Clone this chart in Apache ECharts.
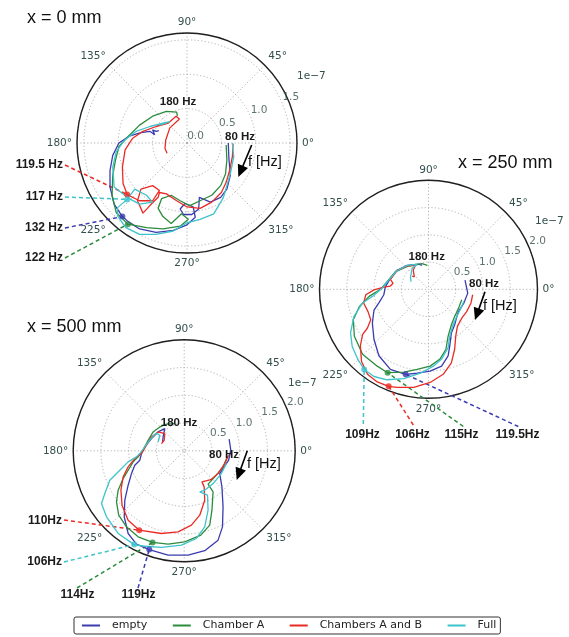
<!DOCTYPE html>
<html>
<head>
<meta charset="utf-8">
<script src="https://cdn.jsdelivr.net/npm/echarts@6/dist/echarts.min.js"></script>
<style>html,body{margin:0;padding:0;background:#fff}#c{width:569px;height:637px}</style>
</head>
<body>
<div id="c"></div>
<script>
// ---------- data (real / imaginary parts, units of 1e-7) ----------
const seriesNames = ['empty', 'Chamber A', 'Chambers A and B', 'Full'];
const angleTicks = [0, 45, 90, 135, 180, 225, 270, 315];

// x = 0 mm
const p1_empty = [[0.60,0.00],[0.61,-0.23],[0.63,-0.47],[0.58,-0.67],[0.49,-0.79],[0.34,-0.86],[0.18,-0.79],[0.17,-0.96],[0.07,-1.04],[-0.05,-1.04],[-0.10,-0.96],[-0.03,-0.88],[0.09,-0.93],[0.12,-1.08],[0.00,-1.19],[-0.20,-1.27],[-0.45,-1.30],[-0.69,-1.25],[-0.86,-1.14],[-0.94,-1.07],[-1.06,-0.89],[-1.12,-0.64],[-1.12,-0.40],[-1.08,-0.18],[-0.99,0.00],[-0.84,0.10],[-0.67,0.15],[-0.54,0.17],[-0.47,0.12],[-0.50,0.19],[-0.45,0.17],[-0.41,0.18]];
const p1_chamberA = [[0.57,-0.03],[0.58,-0.25],[0.56,-0.45],[0.49,-0.62],[0.36,-0.76],[0.19,-0.84],[0.04,-0.91],[-0.10,-0.84],[-0.23,-0.76],[-0.37,-0.81],[-0.42,-0.95],[-0.35,-1.07],[-0.23,-1.17],[-0.08,-1.03],[0.02,-1.11],[-0.10,-1.21],[-0.35,-1.25],[-0.59,-1.23],[-0.86,-1.18],[-1.03,-1.01],[-1.09,-0.76],[-1.08,-0.47],[-1.04,-0.25],[-0.99,-0.05],[-0.86,0.09],[-0.69,0.26],[-0.50,0.39],[-0.30,0.46],[-0.15,0.45],[-0.14,0.39]];
const p1_chambersAB = [[0.67,-0.01],[0.66,-0.20],[0.62,-0.40],[0.57,-0.57],[0.50,-0.72],[0.36,-0.86],[0.19,-0.95],[0.00,-0.93],[-0.15,-0.84],[-0.30,-0.74],[-0.40,-0.72],[-0.42,-0.79],[-0.54,-0.91],[-0.64,-1.02],[-0.72,-0.84],[-0.67,-0.67],[-0.50,-0.62],[-0.40,-0.69],[-0.50,-0.84],[-0.69,-0.84],[-0.87,-0.75],[-0.93,-0.59],[-0.94,-0.35],[-0.90,-0.10],[-0.79,0.07],[-0.64,0.17],[-0.45,0.24],[-0.27,0.29],[-0.16,0.39],[-0.11,0.35],[-0.25,0.22],[-0.31,0.04],[-0.32,-0.08],[-0.29,-0.15]];
const p1_full = [[0.66,0.00],[0.68,-0.20],[0.63,-0.45],[0.53,-0.79],[0.39,-1.03],[0.19,-1.11],[0.00,-1.16],[-0.20,-1.28],[-0.45,-1.33],[-0.69,-1.33],[-0.89,-1.23],[-1.01,-1.06],[-1.01,-0.94],[-0.87,-0.82],[-0.76,-0.67],[-0.59,-0.76],[-0.50,-0.86],[-0.69,-0.89],[-0.84,-0.81],[-1.06,-0.64],[-1.08,-0.35],[-1.03,-0.13],[-0.91,0.04],[-0.74,0.17],[-0.54,0.24],[-0.35,0.29],[-0.25,0.31],[-0.40,0.26]];
const p1_radialTicks = [0, 0.5, 1.0, 1.5];
const p1_radialLabels = ['0.0', '0.5', '1.0', '1.5'];
const p1_dotLabels = ['119.5 Hz', '117 Hz', '132 Hz', '122 Hz'];
const p1_dotSeries = [2, 3, 0, 1];
const p1_dotValues = [[-0.87,-0.75],[-0.87,-0.82],[-0.94,-1.07],[-0.86,-1.18]];

// x = 250 mm
const p2_empty = [[0.67,0.17],[0.72,-0.07],[0.65,-0.25],[0.55,-0.41],[0.52,-0.50],[0.48,-0.65],[0.42,-0.80],[0.39,-1.04],[0.36,-1.22],[0.24,-1.41],[0.03,-1.50],[-0.21,-1.54],[-0.42,-1.56],[-0.70,-1.47],[-0.91,-1.22],[-1.00,-0.92],[-1.03,-0.62],[-1.00,-0.38],[-0.91,-0.25],[-0.82,-0.10],[-0.79,0.05],[-0.70,0.20],[-0.58,0.35],[-0.39,0.44],[-0.18,0.46],[-0.12,0.44]];
const p2_chamberA = [[0.61,-0.19],[0.55,-0.35],[0.48,-0.50],[0.42,-0.65],[0.36,-0.86],[0.32,-1.10],[0.21,-1.28],[0.03,-1.41],[-0.21,-1.47],[-0.45,-1.52],[-0.75,-1.53],[-0.94,-1.41],[-1.21,-1.19],[-1.36,-0.86],[-1.38,-0.56],[-1.27,-0.32],[-1.09,-0.13],[-0.88,0.00],[-0.76,0.14],[-0.61,0.32],[-0.39,0.42],[-0.12,0.47],[-0.02,0.44]];
const p2_chambersAB = [[0.81,-0.10],[0.78,-0.25],[0.70,-0.41],[0.61,-0.53],[0.53,-0.68],[0.50,-0.86],[0.48,-1.10],[0.42,-1.35],[0.27,-1.56],[0.03,-1.71],[-0.27,-1.80],[-0.58,-1.80],[-0.73,-1.78],[-0.94,-1.70],[-1.12,-1.56],[-1.23,-1.32],[-1.25,-1.04],[-1.21,-0.83],[-1.12,-0.71],[-1.06,-0.56],[-1.11,-0.41],[-1.19,-0.25],[-1.15,-0.10],[-1.00,-0.01],[-0.82,0.04],[-0.70,0.06],[-0.65,0.11],[-0.70,0.18],[-0.58,0.34],[-0.39,0.43],[-0.24,0.44],[-0.28,0.35],[-0.26,0.23],[-0.30,0.24]];
const p2_full = [[0.65,-0.22],[0.58,-0.38],[0.52,-0.50],[0.45,-0.65],[0.39,-0.86],[0.36,-1.07],[0.24,-1.28],[0.09,-1.41],[-0.15,-1.54],[-0.45,-1.64],[-0.76,-1.66],[-1.00,-1.60],[-1.18,-1.47],[-1.30,-1.28],[-1.40,-1.05],[-1.43,-0.80],[-1.37,-0.50],[-1.21,-0.25],[-1.03,-0.13],[-0.85,0.02],[-0.73,0.17],[-0.58,0.34],[-0.39,0.44],[-0.21,0.46],[-0.30,0.38],[-0.33,0.23],[-0.32,0.14]];
const p2_radialTicks = [0.5, 1.0, 1.5, 2.0];
const p2_radialLabels = ['0.5', '1.0', '1.5', '2.0'];
const p2_dotLabels = ['109Hz', '106Hz', '115Hz', '119.5Hz'];
const p2_dotSeries = [3, 2, 1, 0];
const p2_dotValues = [[-1.18,-1.47],[-0.73,-1.78],[-0.75,-1.53],[-0.42,-1.56]];

// x = 500 mm
const p3_empty = [[0.81,0.21],[0.84,0.01],[0.80,-0.17],[0.70,-0.32],[0.64,-0.41],[0.68,-0.65],[0.70,-1.01],[0.69,-1.37],[0.61,-1.61],[0.37,-1.80],[0.07,-1.88],[-0.29,-1.88],[-0.63,-1.78],[-0.86,-1.68],[-1.01,-1.49],[-1.08,-1.19],[-1.07,-0.89],[-1.01,-0.62],[-0.95,-0.41],[-0.89,-0.26],[-0.80,-0.17],[-0.77,-0.05],[-0.71,0.07],[-0.59,0.22],[-0.47,0.34],[-0.35,0.40],[-0.32,0.38],[-0.38,0.25],[-0.39,0.16]];
const p3_chamberA = [[0.78,-0.10],[0.70,-0.29],[0.56,-0.46],[0.43,-0.60],[0.52,-0.74],[0.50,-1.07],[0.46,-1.34],[0.30,-1.52],[0.01,-1.64],[-0.29,-1.68],[-0.57,-1.65],[-0.83,-1.55],[-1.04,-1.37],[-1.18,-1.16],[-1.22,-0.92],[-1.19,-0.71],[-1.10,-0.50],[-1.01,-0.35],[-0.92,-0.20],[-0.83,-0.11],[-0.74,0.01],[-0.65,0.19],[-0.56,0.34],[-0.44,0.43],[-0.32,0.48],[-0.17,0.49]];
const p3_chambersAB = [[0.80,-0.08],[0.73,-0.23],[0.61,-0.41],[0.48,-0.52],[0.32,-0.56],[0.36,-0.65],[0.37,-0.89],[0.28,-1.16],[0.13,-1.34],[-0.11,-1.46],[-0.41,-1.49],[-0.81,-1.43],[-1.01,-1.25],[-1.12,-0.98],[-1.14,-0.71],[-1.10,-0.47],[-1.01,-0.29],[-0.89,-0.14],[-0.77,-0.05],[-0.68,0.10],[-0.59,0.25],[-0.47,0.34],[-0.35,0.31],[-0.36,0.19],[-0.41,0.13]];
const p3_full = [[0.76,-0.23],[0.67,-0.41],[0.52,-0.59],[0.37,-0.71],[0.28,-0.74],[0.42,-0.80],[0.43,-1.07],[0.37,-1.37],[0.22,-1.58],[-0.05,-1.70],[-0.41,-1.74],[-0.71,-1.72],[-0.90,-1.69],[-1.19,-1.49],[-1.40,-1.19],[-1.49,-0.95],[-1.43,-0.77],[-1.34,-0.53],[-1.16,-0.35],[-1.01,-0.20],[-0.86,-0.11],[-0.80,-0.05],[-0.71,0.07],[-0.60,0.22],[-0.50,0.32],[-0.44,0.28],[-0.47,0.16]];
const p3_radialTicks = [0.5, 1.0, 1.5, 2.0];
const p3_radialLabels = ['0.5', '1.0', '1.5', '2.0'];
const p3_dotLabels = ['110Hz', '106Hz', '114Hz', '119Hz'];
const p3_dotSeries = [2, 3, 1, 0];
const p3_dotValues = [[-0.81,-1.43],[-0.90,-1.69],[-0.57,-1.65],[-0.63,-1.78]];

// ---------- layout / style ----------
const COLORS = ['#3b3bb0', '#2b8c3e', '#ea2b25', '#3dc3cb'];
const TICK_COLOR = '#34504d';
const PLOTS = [
  { title: 'x = 0 mm', titlePos: [27, 18], center: [187, 143], radius: 110, max: 1.6,
    curves: [p1_empty, p1_chamberA, p1_chambersAB, p1_full],
    rTicks: p1_radialTicks, rLabels: p1_radialLabels,
    dotLabels: p1_dotLabels, dotSeries: p1_dotSeries, dotValues: p1_dotValues,
    callouts: [
      { tx: 63, ty: 165, align: 'right', lx: 65, ly: 165 },
      { tx: 63, ty: 197, align: 'right', lx: 65, ly: 197 },
      { tx: 63, ty: 228, align: 'right', lx: 65, ly: 228 },
      { tx: 63, ty: 258, align: 'right', lx: 65, ly: 258 }
    ],
    f180: [178, 102], f80: [240, 137], fLabel: [248, 162], arrow: [251.7, 145, 238.3, 177], sci: [297, 76] },
  { title: 'x = 250 mm', titlePos: [458, 163], center: [428.5, 289.3], radius: 109, max: 2.0,
    curves: [p2_empty, p2_chamberA, p2_chambersAB, p2_full],
    rTicks: p2_radialTicks, rLabels: p2_radialLabels,
    dotLabels: p2_dotLabels, dotSeries: p2_dotSeries, dotValues: p2_dotValues,
    callouts: [
      { tx: 362.5, ty: 435, align: 'center', lx: 363.3, ly: 424 },
      { tx: 412.5, ty: 435, align: 'center', lx: 413.3, ly: 425 },
      { tx: 461.5, ty: 435, align: 'center', lx: 463.3, ly: 426.5 },
      { tx: 517.5, ty: 435, align: 'center', lx: 518.3, ly: 426.5 }
    ],
    f180: [426.7, 256.7], f80: [484, 284], fLabel: [483, 305.7], arrow: [485, 291.7, 475, 320], sci: [535, 221] },
  { title: 'x = 500 mm', titlePos: [27, 327], center: [184.2, 450.8], radius: 111, max: 2.0,
    curves: [p3_empty, p3_chamberA, p3_chambersAB, p3_full],
    rTicks: p3_radialTicks, rLabels: p3_radialLabels,
    dotLabels: p3_dotLabels, dotSeries: p3_dotSeries, dotValues: p3_dotValues,
    callouts: [
      { tx: 62, ty: 521, align: 'right', lx: 64, ly: 520 },
      { tx: 62, ty: 562, align: 'right', lx: 64, ly: 562 },
      { tx: 77.5, ty: 595, align: 'center', lx: 77, ly: 588 },
      { tx: 138.5, ty: 595, align: 'center', lx: 138, ly: 588 }
    ],
    f180: [179, 422.7], f80: [224, 455], fLabel: [247, 464.3], arrow: [247.3, 450.7, 236.7, 480], sci: [288, 383] }
];

function toPolar(pt) {
  const r = Math.hypot(pt[0], pt[1]);
  let t = Math.atan2(pt[1], pt[0]) * 180 / Math.PI;
  if (t < 0) t += 360;
  return [r, t];
}

const gridLine = { color: '#a8a8a8', type: [1.2, 2.2], width: 0.9 };
const polar = [], angleAxis = [], radiusAxis = [], series = [];
const dotSeriesIndex = [];

PLOTS.forEach((p, i) => {
  polar.push({ center: p.center, radius: [0, p.radius] });
  angleAxis.push({
    polarIndex: i, type: 'value', min: 0, max: 360, interval: 45,
    startAngle: 0, clockwise: false,
    axisLine: { show: true, lineStyle: { color: '#1f1f1f', width: 1.4 } },
    axisTick: { show: false },
    axisLabel: { margin: 5, color: TICK_COLOR, fontSize: 10.5, fontFamily: 'DejaVu Sans',
      formatter: v => (angleTicks.indexOf(v) >= 0 ? v + '°' : '') },
    splitLine: { show: true, lineStyle: gridLine }
  });
  radiusAxis.push({
    polarIndex: i, type: 'value', min: 0, max: p.max, interval: 0.5,
    axisLine: { show: false }, axisTick: { show: false }, axisLabel: { show: false },
    splitLine: { show: true, lineStyle: gridLine }
  });
  p.curves.forEach((c, k) => {
    series.push({
      type: 'line', name: seriesNames[k], coordinateSystem: 'polar', polarIndex: i,
      data: c.map(toPolar), symbol: 'none', showSymbol: false, smooth: false, clip: false,
      lineStyle: { color: COLORS[k], width: 1.3 }, itemStyle: { color: COLORS[k] },
      emphasis: { disabled: true }, animation: false, z: 2 + k * 0.01
    });
  });
  dotSeriesIndex.push(series.length);
  series.push({
    type: 'scatter', name: 'markers' + i, coordinateSystem: 'polar', polarIndex: i,
    symbol: 'circle', symbolSize: 6, animation: false, z: 4,
    data: p.dotValues.map((v, j) => ({ value: toPolar(v), itemStyle: { color: COLORS[p.dotSeries[j]] } }))
  });
  series.push({
    type: 'scatter', name: 'rlabels' + i, coordinateSystem: 'polar', polarIndex: i,
    symbolSize: 1, itemStyle: { color: 'transparent' }, animation: false, silent: true, z: 3,
    data: p.rTicks.map((v, j) => ({ value: [v, 22.5], name: p.rLabels[j] })),
    label: { show: true, position: 'inside', offset: [8.5, -6.5], formatter: d => d.name,
      color: TICK_COLOR, fontSize: 10.5, fontFamily: 'DejaVu Sans' }
  });
});

const chart = echarts.init(document.getElementById('c'), null, { renderer: 'canvas' });
chart.setOption({
  backgroundColor: '#ffffff',
  animation: false,
  polar, angleAxis, radiusAxis, series,
  legend: {
    data: seriesNames, left: 74, top: 617, orient: 'horizontal',
    icon: 'rect', itemWidth: 18, itemHeight: 2, itemGap: 25.5,
    padding: [3, 4, 3, 8], borderColor: '#333', borderWidth: 1, borderRadius: 2,
    textStyle: { fontFamily: 'DejaVu Sans', fontSize: 11, color: '#222', padding: [0, 0, 0, 7] },
    selectedMode: false
  }
});

// ---------- annotations ----------
function arrowEls(a) {
  const [x1, y1, x2, y2] = a;
  const dx = x2 - x1, dy = y2 - y1, L = Math.hypot(dx, dy), ux = dx / L, uy = dy / L;
  const hl = 12, hw = 5.5, bx = x2 - ux * hl, by = y2 - uy * hl;
  return [
    { type: 'line', shape: { x1, y1, x2: bx + ux, y2: by + uy }, style: { stroke: '#000', lineWidth: 1.6 } },
    { type: 'polygon', shape: { points: [[x2, y2], [bx - uy * hw, by + ux * hw], [bx + uy * hw, by - ux * hw]] }, style: { fill: '#000' } }
  ];
}
function text(x, y, str, font, align, color) {
  return { type: 'text', x, y, z: 10, style: { text: str, font, fill: color || '#1a1a1a', align: align || 'left', verticalAlign: 'middle' } };
}
const graphic = [];
PLOTS.forEach((p, i) => {
  graphic.push(text(p.titlePos[0], p.titlePos[1], p.title, '18px "Liberation Sans"', 'left', '#111'));
  graphic.push(text(p.f180[0], p.f180[1], '180 Hz', 'bold 11.5px "Liberation Sans"', 'center'));
  graphic.push(text(p.f80[0], p.f80[1], '80 Hz', 'bold 11.5px "Liberation Sans"', 'center'));
  graphic.push(text(p.fLabel[0], p.fLabel[1], 'f [Hz]', '14.5px "Liberation Sans"', 'left', '#111'));
  graphic.push(text(p.sci[0], p.sci[1], '1e\u22127', '10.5px "DejaVu Sans"', 'left', TICK_COLOR));
  arrowEls(p.arrow).forEach(e => graphic.push(e));
  p.callouts.forEach((c, j) => {
    const col = COLORS[p.dotSeries[j]];
    let pt = chart.convertToPixel({ seriesIndex: dotSeriesIndex[i] }, toPolar(p.dotValues[j]));
    graphic.push({ type: 'line', z: 1, shape: { x1: c.lx, y1: c.ly, x2: pt[0], y2: pt[1] },
      style: { stroke: col, lineWidth: 1.5, lineDash: [4, 3] } });
    graphic.push(text(c.tx, c.ty, p.dotLabels[j], 'bold 12px "Liberation Sans"', c.align));
  });
});
chart.setOption({ graphic });
</script>
</body>
</html>
